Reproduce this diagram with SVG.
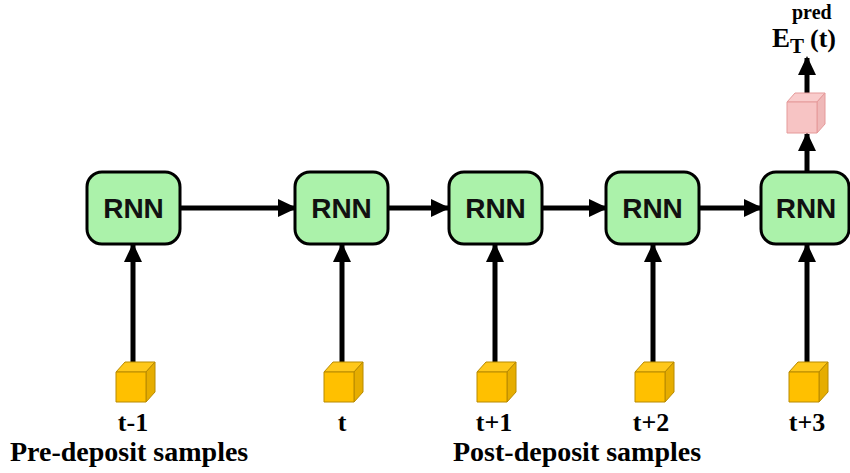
<svg xmlns="http://www.w3.org/2000/svg" width="850" height="473" viewBox="0 0 850 473">
  <defs>
    <marker id="arrow" viewBox="0 0 19 18" refX="17" refY="9" markerWidth="19" markerHeight="18" markerUnits="userSpaceOnUse" orient="auto">
      <path d="M0,0 L19,9 L0,18 Z" fill="#000"/>
    </marker>
    <style>
      .rnn rect { fill: #abf2aa; stroke: #000; stroke-width: 3; }
      .rnn text { font-family: "Liberation Sans", Arial, sans-serif; font-weight: bold; font-size: 28px; fill: #111; text-anchor: middle; }
      .edge { stroke: #000; stroke-width: 5; fill: none; marker-end: url(#arrow); }
      .cube .front { fill: #ffc000; }
      .cube .top { fill: #ffc81a; }
      .cube .side { fill: #e6ad00; }
      .cube path { stroke: #b88a00; stroke-width: 1; stroke-linejoin: round; }
      .pcube path { stroke: #e59a9a; stroke-width: 1; stroke-linejoin: round; }
      .pcube .front { fill: #f7c4c4; }
      .pcube .top { fill: #f9cccc; }
      .pcube .side { fill: #efb8b8; }
      .lbl { font-family: "Liberation Serif", "Times New Roman", serif; font-weight: bold; fill: #000; }
      .tl { font-size: 26px; text-anchor: middle; }
      .grp { font-size: 28px; }
    </style>
  </defs>

  <!-- connectors -->
  <g id="connectors">
    <line class="edge" x1="180" y1="208" x2="295" y2="208"/>
    <line class="edge" x1="388" y1="208" x2="448" y2="208"/>
    <line class="edge" x1="542" y1="208" x2="606" y2="208"/>
    <line class="edge" x1="699" y1="208" x2="761" y2="208"/>
    <line class="edge" x1="133" y1="368" x2="133" y2="245"/>
    <line class="edge" x1="342" y1="368" x2="342" y2="245"/>
    <line class="edge" x1="495" y1="368" x2="495" y2="245"/>
    <line class="edge" x1="653" y1="368" x2="653" y2="245"/>
    <line class="edge" x1="807" y1="368" x2="807" y2="245"/>
    <line class="edge" x1="807" y1="172" x2="807" y2="134"/>
    <line class="edge" x1="807" y1="98" x2="807" y2="58"/>
  </g>

  <!-- recurrent cells -->
  <g id="rnn1" class="rnn"><rect x="87" y="172" width="93" height="72" rx="15"/><text x="133.5" y="218">RNN</text></g>
  <g id="rnn2" class="rnn"><rect x="295" y="172" width="93" height="72" rx="15"/><text x="341.5" y="218">RNN</text></g>
  <g id="rnn3" class="rnn"><rect x="449" y="172" width="93" height="72" rx="15"/><text x="495.5" y="218">RNN</text></g>
  <g id="rnn4" class="rnn"><rect x="606" y="172" width="93" height="72" rx="15"/><text x="652.5" y="218">RNN</text></g>
  <g id="rnn5" class="rnn"><rect x="761" y="172" width="88" height="72" rx="15"/><text x="806" y="218">RNN</text></g>

  <!-- input samples -->
  <g id="x1" class="cube" transform="translate(116,372)">
    <path class="top" d="M0,0 L9,-10 L39,-10 L30,0 Z"/>
    <path class="side" d="M30,0 L39,-10 L39,20 L30,30 Z"/>
    <path class="front" d="M0,0 H30 V30 H0 Z"/>
  </g>
  <g id="x2" class="cube" transform="translate(324,372)">
    <path class="top" d="M0,0 L9,-10 L39,-10 L30,0 Z"/>
    <path class="side" d="M30,0 L39,-10 L39,20 L30,30 Z"/>
    <path class="front" d="M0,0 H30 V30 H0 Z"/>
  </g>
  <g id="x3" class="cube" transform="translate(477,372)">
    <path class="top" d="M0,0 L9,-10 L39,-10 L30,0 Z"/>
    <path class="side" d="M30,0 L39,-10 L39,20 L30,30 Z"/>
    <path class="front" d="M0,0 H30 V30 H0 Z"/>
  </g>
  <g id="x4" class="cube" transform="translate(635,372)">
    <path class="top" d="M0,0 L9,-10 L39,-10 L30,0 Z"/>
    <path class="side" d="M30,0 L39,-10 L39,20 L30,30 Z"/>
    <path class="front" d="M0,0 H30 V30 H0 Z"/>
  </g>
  <g id="x5" class="cube" transform="translate(789,372)">
    <path class="top" d="M0,0 L9,-10 L39,-10 L30,0 Z"/>
    <path class="side" d="M30,0 L39,-10 L39,20 L30,30 Z"/>
    <path class="front" d="M0,0 H30 V30 H0 Z"/>
  </g>

  <!-- prediction output -->
  <g id="output" class="pcube" transform="translate(787,102)">
    <path class="top" d="M0,0 L8,-9 L38,-9 L30,0 Z"/>
    <path class="side" d="M30,0 L38,-9 L38,22 L30,31 Z"/>
    <path class="front" d="M0,0 H30 V31 H0 Z"/>
  </g>
  <g id="output-label" class="lbl">
    <text x="772" y="47" font-size="27">E</text>
    <text x="790" y="53" font-size="21">T</text>
    <text x="792" y="19" font-size="20">pred</text>
    <text x="810" y="47" font-size="26">(t)</text>
  </g>

  <!-- time step labels -->
  <g id="time-labels" class="lbl tl">
    <text x="133" y="431">t-1</text>
    <text x="342" y="431">t</text>
    <text x="494" y="431">t+1</text>
    <text x="651" y="431">t+2</text>
    <text x="807" y="431">t+3</text>
  </g>

  <!-- group captions -->
  <g id="captions" class="lbl grp">
    <text x="10" y="461">Pre-deposit samples</text>
    <text x="453" y="461">Post-deposit samples</text>
  </g>
</svg>
